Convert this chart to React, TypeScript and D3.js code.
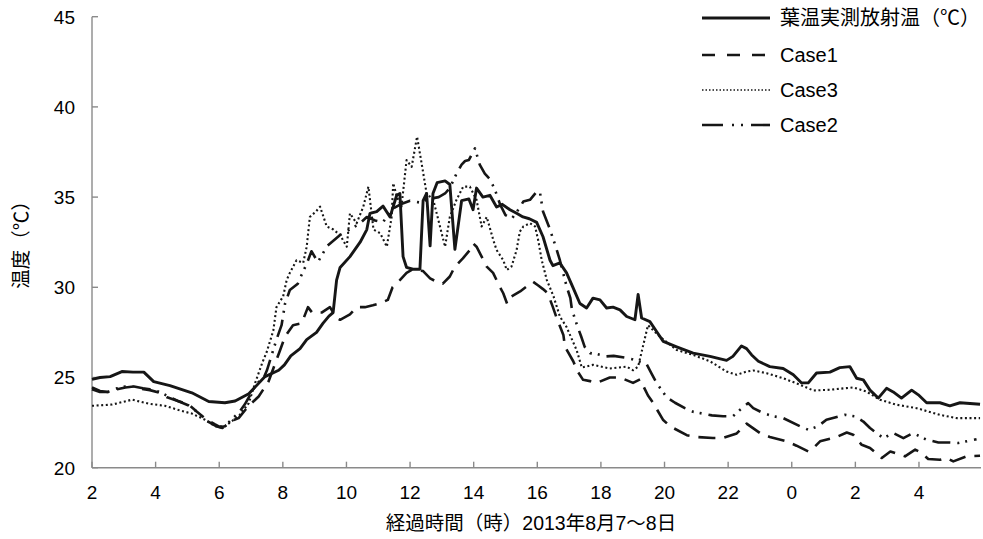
import React from "react";
import * as d3 from "d3";

// elapsed hours from 0:00 on Aug 7 (values above 24 are Aug 8)
const measuredHours = [
  2.0, 2.25, 2.57, 2.94, 3.29, 3.63, 3.94, 4.45, 5.14, 5.67, 6.18, 6.5, 6.93, 7.44, 7.87, 8.05, 8.25,
  8.54, 8.75, 9.06, 9.26, 9.45, 9.58, 9.69, 9.8, 10.11, 10.43, 10.64, 10.74, 10.95, 11.15, 11.37,
  11.58, 11.68, 11.78, 11.89, 12.09, 12.31, 12.41, 12.52, 12.63, 12.72, 12.85, 13.1, 13.25, 13.41,
  13.62, 13.85, 13.98, 14.09, 14.29, 14.51, 14.72, 14.9, 15.14, 15.35, 15.55, 15.75, 15.98, 16.18,
  16.4, 16.49, 16.71, 16.92, 17.12, 17.34, 17.55, 17.75, 17.97, 18.18, 18.38, 18.6, 18.81, 19.07,
  19.17, 19.28, 19.54, 19.75, 19.96, 20.38, 20.9, 21.43, 21.95, 22.15, 22.42, 22.58, 22.74, 22.95,
  23.31, 23.73, 24.05, 24.31, 24.52, 24.78, 25.2, 25.51, 25.83, 26.04, 26.25, 26.46, 26.72, 26.98,
  27.19, 27.45, 27.77, 27.98, 28.24, 28.66, 28.97, 29.29, 29.92,
];
const measuredTemp = [
  24.9, 25.0, 25.05, 25.33, 25.3, 25.3, 24.77, 24.55, 24.15, 23.67, 23.6, 23.7, 24.1, 25.05, 25.4, 25.7, 26.2,
  26.6, 27.1, 27.5, 28.0, 28.4, 28.6, 30.4, 31.1, 31.7, 32.5, 33.2, 34.1, 34.2, 34.5, 33.9,
  35.1, 35.2, 31.7, 31.1, 31.0, 31.0, 34.8, 35.2, 32.3, 35.2, 35.8, 35.9, 35.7, 32.1,
  34.8, 34.9, 34.3, 35.5, 35.0, 35.1, 34.45, 34.6, 34.3, 34.1, 33.9, 33.8, 33.6, 32.8,
  31.5, 31.2, 31.35, 30.8, 30.0, 29.1, 28.85, 29.4, 29.3, 28.85, 28.9, 28.75, 28.38, 28.2,
  29.6, 28.3, 28.1, 27.55, 27.0, 26.7, 26.35, 26.17, 25.95, 26.17, 26.75, 26.6, 26.25, 25.9,
  25.6, 25.5, 25.15, 24.7, 24.7, 25.25, 25.3, 25.55, 25.6, 24.96, 24.87, 24.3, 23.86, 24.4,
  24.2, 23.86, 24.3, 24.04, 23.6, 23.6, 23.43, 23.6, 23.52,
];

const case1Hours = [
  2.0, 2.25, 2.5, 2.79, 3.05, 3.32, 3.47, 3.82, 4.13, 4.36, 4.7, 5.04, 5.3, 5.61, 5.87, 6.03, 6.18,
  6.4, 6.61, 6.91, 7.24, 7.55, 7.91, 8.07, 8.32, 8.59, 8.79, 8.92, 9.22, 9.48, 9.69, 9.8, 10.11,
  10.32, 10.58, 10.83, 11.04, 11.3, 11.45, 11.68, 11.89, 12.09, 12.41, 12.63, 12.84, 13.03, 13.25,
  13.41, 13.66, 13.88, 13.98, 14.09, 14.41, 14.61, 14.83, 14.93, 15.05, 15.14, 15.46, 15.67, 15.87,
  16.03, 16.18, 16.33, 16.49, 16.61, 16.82, 16.87, 17.13, 17.28, 17.44, 17.66, 17.87, 18.28, 18.6,
  19.01, 19.23, 19.48, 19.64, 19.95, 20.17, 20.7, 21.02, 21.52, 21.84, 22.27, 22.58, 23.0, 23.31,
  23.84, 24.15, 24.52, 24.68, 24.89, 25.41, 25.73, 25.93, 26.2, 26.46, 26.83, 27.1, 27.56, 27.88,
  28.09, 28.29, 28.66, 28.87, 29.08, 29.5, 29.92,
];
const case1Temp = [
  24.45, 24.25, 24.2, 24.35, 24.45, 24.5, 24.4, 24.3, 24.15, 23.9, 23.7, 23.5, 23.1, 22.66, 22.4, 22.25, 22.3,
  22.6, 22.75, 23.4, 23.95, 24.78, 26.5, 27.27, 27.9, 28.0, 28.9, 28.6, 28.6, 28.9, 28.3, 28.2, 28.5,
  28.9, 28.9, 29.0, 29.1, 29.3, 30.0, 30.4, 30.8, 31.0, 30.9, 30.5, 30.3, 30.2, 30.6,
  31.15, 31.6, 32.07, 32.44, 32.25, 31.15, 30.8, 30.0, 29.67, 29.1, 29.45, 29.77, 30.05, 30.3,
  30.1, 29.9, 29.67, 28.9, 28.3, 27.36, 26.7, 25.9, 25.3, 24.87, 24.8, 24.7, 25.0, 25.0,
  24.7, 24.9, 24.0, 23.6, 22.66, 22.3, 21.8, 21.7, 21.65, 21.65, 21.9, 22.44, 21.92, 21.7,
  21.46, 21.22, 20.9, 21.09, 21.46, 21.7, 21.95, 21.83, 21.27, 21.09, 20.54, 20.9, 20.63, 21.0,
  20.81, 20.48, 20.44, 20.54, 20.35, 20.63, 20.66,
];

const case3Hours = [
  2.0, 2.63, 3.26, 3.78, 4.29, 4.72, 5.14, 5.55, 5.87, 6.18, 6.61, 6.93, 7.13, 7.35, 7.49, 7.7, 7.8,
  8.01, 8.12, 8.22, 8.43, 8.64, 8.75, 8.85, 9.04, 9.17, 9.38, 9.59, 9.8, 10.01, 10.11, 10.32, 10.53,
  10.69, 10.85, 11.06, 11.27, 11.42, 11.47, 11.59, 11.73, 11.89, 12.05, 12.22, 12.36, 12.52, 12.73,
  12.94, 13.1, 13.25, 13.46, 13.67, 13.88, 14.09, 14.25, 14.41, 14.62, 14.72, 14.93, 15.04, 15.19,
  15.35, 15.45, 15.56, 15.77, 15.93, 16.03, 16.14, 16.3, 16.51, 16.71, 16.92, 17.24, 17.4, 17.75,
  18.28, 18.81, 19.01, 19.17, 19.48, 19.85, 20.38, 20.9, 21.43, 21.95, 22.27, 22.58, 22.79, 23.21,
  23.73, 24.26, 24.68, 25.2, 25.93, 26.35, 26.77, 27.3, 27.93, 28.66, 29.18, 29.92,
];
const case3Temp = [
  23.43, 23.5, 23.77, 23.55, 23.43, 23.2, 23.0, 22.66, 22.3, 22.3, 22.85, 23.58, 24.7, 25.8, 26.4, 27.6, 28.9,
  29.5, 30.4, 30.8, 31.5, 31.35, 32.25, 33.9, 34.2, 34.47, 33.37, 33.2, 32.9, 32.25, 34.1, 33.55, 34.47,
  35.58, 33.2, 33.0, 32.25, 33.9, 35.77, 35.0, 34.47, 37.05, 36.68, 38.35, 36.9, 35.2, 34.85,
  33.37, 32.25, 33.9, 34.85, 35.58, 35.58, 34.85, 33.37, 33.9, 32.6, 32.07, 31.5, 30.96, 31.15,
  32.07, 33.08, 33.37, 33.55, 33.37, 32.6, 31.5, 30.4, 29.5, 28.38, 27.8, 26.5, 25.55, 25.7,
  25.5, 25.6, 25.4, 25.6, 27.9, 27.27, 26.53, 26.25, 25.9, 25.33, 25.15, 25.33, 25.39, 25.24,
  24.96, 24.6, 24.28, 24.32, 24.45, 24.22, 23.77, 23.49, 23.3, 22.93, 22.75, 22.75,
];

const case2Hours = [
  2.0, 2.25, 2.5, 2.79, 3.05, 3.32, 3.6, 3.82, 4.13, 4.4, 4.7, 5.04, 5.3, 5.61, 5.9, 6.1, 6.18,
  6.4, 6.61, 6.8, 7.19, 7.38, 7.5, 7.8, 7.96, 8.07, 8.22, 8.47, 8.54, 8.75, 8.9, 9.1, 9.4, 9.8,
  10.1, 10.4, 10.64, 10.9, 11.15, 11.4, 11.7, 12.0, 12.3, 12.6, 12.9, 13.1, 13.25, 13.46, 13.62,
  13.73, 13.85, 13.98, 14.04, 14.19, 14.35, 14.51, 14.67, 14.83, 15.0, 15.2, 15.4, 15.56, 15.77,
  15.98, 16.08, 16.18, 16.38, 16.59, 16.71, 16.93, 17.04, 17.09, 17.25, 17.38, 17.49, 17.66, 17.87,
  18.15, 18.4, 18.75, 19.01, 19.17, 19.43, 19.58, 19.75, 20.07, 20.33, 20.64, 20.9, 21.49, 21.84,
  22.15, 22.37, 22.63, 22.79, 23.1, 23.42, 23.73, 24.26, 24.52, 24.83, 25.09, 25.67, 25.98, 26.25,
  26.46, 26.88, 27.19, 27.51, 27.82, 28.24, 28.61, 28.92, 29.24, 29.81,
];
const case2Temp = [
  24.35, 24.2, 24.2, 24.4, 24.5, 24.5, 24.4, 24.35, 24.2, 23.95, 23.7, 23.45, 23.1, 22.6, 22.3, 22.2, 22.3,
  22.7, 23.03, 23.5, 24.7, 24.9, 25.4, 27.1, 27.9, 29.1, 29.85, 30.2, 30.5, 31.3, 32.0, 31.4, 32.3, 32.9,
  33.2, 33.5, 33.9, 33.7, 33.6, 34.3, 34.6, 34.8, 34.7, 34.9, 35.0, 35.2, 35.5, 36.3, 36.8,
  37.0, 37.06, 37.5, 37.7, 36.8, 36.3, 36.0, 35.4, 34.6, 34.0, 33.8, 34.3, 34.75, 34.85,
  35.3, 35.3, 34.2, 33.3, 32.2, 31.5, 30.0, 29.4, 28.75, 27.9, 27.27, 26.7, 26.35, 26.3,
  26.17, 26.2, 26.1, 26.0, 25.9, 25.76, 25.26, 24.7, 23.9, 23.6, 23.3, 23.1, 22.9, 22.85,
  22.85, 23.2, 23.58, 23.3, 23.03, 22.85, 22.75, 22.3, 22.1, 22.3, 22.66, 22.93, 22.85, 22.56,
  22.2, 21.64, 21.92, 21.64, 21.92, 21.55, 21.4, 21.4, 21.37, 21.58,
];

const xTicks = [2, 4, 6, 8, 10, 12, 14, 16, 18, 20, 22, 24, 26, 28];
const yTicks = [20, 25, 30, 35, 40, 45];
const legendLabels = ["葉温実測放射温（℃）", "Case1", "Case3", "Case2"];
const xTitle = "経過時間（時）2013年8月7～8日";
const yTitle = "温度（℃）";

const W = 983;
const H = 539;
const FONT = "'Liberation Sans', Arial, 'Noto Sans CJK JP', sans-serif";
const INK = "#161616";
const AXIS = "#8a8a8a";

export default function App() {
  const x = d3.scaleLinear().domain([2, 29.95]).range([92, 981]);
  const y = d3.scaleLinear().domain([20, 45]).range([467.7, 16.7]);

  const line = d3
    .line<[number, number]>()
    .x((d) => x(d[0]))
    .y((d) => y(d[1]));

  const zip = (hs: number[], vs: number[]) => hs.map((h, i) => [h, vs[i]] as [number, number]);

  const series = [
    { key: "measured", pts: zip(measuredHours, measuredTemp), width: 2.9, dash: "none", cap: "butt" },
    { key: "case1", pts: zip(case1Hours, case1Temp), width: 2.6, dash: "17 9", cap: "butt" },
    { key: "case3", pts: zip(case3Hours, case3Temp), width: 2.1, dash: "2 2.6", cap: "butt" },
    { key: "case2", pts: zip(case2Hours, case2Temp), width: 2.6, dash: "18 7 2 6 2 7", cap: "butt" },
  ];

  // legend line styles follow the same order as legendLabels
  const legendRows = [
    { width: 2.8, dash: "none", cap: "butt" },
    { width: 2.6, dash: "13 12", cap: "butt" },
    { width: 1.5, dash: "1.5 2", cap: "butt" },
    { width: 2.6, dash: "21 9 2 7 2 8", cap: "butt" },
  ];
  const legendY = [18, 55, 90, 125];

  return (
    <svg
      width={W}
      height={H}
      style={{ position: "absolute", left: 0, top: 0, background: "#fff" }}
      fontFamily={FONT}
    >
      {/* axes */}
      <line x1={x(2)} x2={x(2)} y1={y(45)} y2={y(20)} stroke={AXIS} strokeWidth={1.4} />
      <line x1={x(2)} x2={x(29.95)} y1={y(20)} y2={y(20)} stroke={AXIS} strokeWidth={1.4} />
      {yTicks.map((t) => (
        <g key={"y" + t}>
          <line x1={x(2)} x2={x(2) + 6} y1={y(t)} y2={y(t)} stroke={AXIS} strokeWidth={1.4} />
          <text x={75} y={y(t)} dy="0.36em" textAnchor="end" fontSize={19} fill="#000">
            {t}
          </text>
        </g>
      ))}
      {xTicks.map((t) => (
        <g key={"x" + t}>
          <line x1={x(t)} x2={x(t)} y1={y(20)} y2={y(20) - 6} stroke={AXIS} strokeWidth={1.4} />
          <text x={x(t)} y={499} textAnchor="middle" fontSize={19} fill="#000">
            {t % 24}
          </text>
        </g>
      ))}
      <text x={531} y={530} textAnchor="middle" fontSize={19.5} fill="#000">
        {xTitle}
      </text>
      <text
        transform={`translate(28,240) rotate(-90)`}
        textAnchor="middle"
        fontSize={19.5}
        fill="#000"
      >
        {yTitle}
      </text>

      {/* series */}
      {series.map((s) => (
        <path
          key={s.key}
          d={line(s.pts) || ""}
          fill="none"
          stroke={INK}
          strokeWidth={s.width}
          strokeDasharray={s.dash}
          strokeLinecap={s.cap as any}
          strokeLinejoin="round"
        />
      ))}

      {/* legend */}
      {legendLabels.map((lab, i) => (
        <g key={lab}>
          <line
            x1={702}
            x2={770}
            y1={legendY[i]}
            y2={legendY[i]}
            stroke={INK}
            strokeWidth={legendRows[i].width}
            strokeDasharray={legendRows[i].dash}
            strokeLinecap={legendRows[i].cap as any}
          />
          <text x={780} y={legendY[i]} dy="0.36em" fontSize={20} fill="#000">
            {lab}
          </text>
        </g>
      ))}
    </svg>
  );
}
